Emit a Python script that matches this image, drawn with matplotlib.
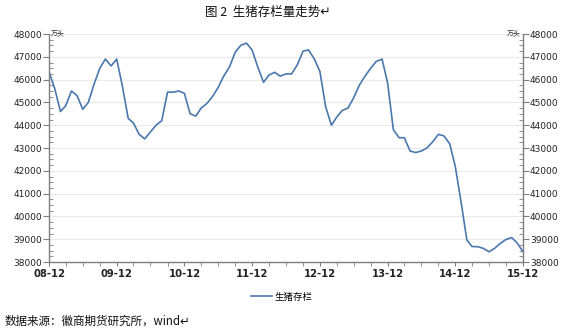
import matplotlib
matplotlib.use("Agg")
import matplotlib.pyplot as plt
import matplotlib.dates as mdates
import pandas as pd

plt.rcParams['font.family'] = ['Noto Sans CJK SC', 'DejaVu Sans']

start_month = '2008-12-01'
values = [46350, 45600, 44600, 44850, 45500, 45300, 44700, 45000, 45800, 46500,
          46900, 46600, 46900, 45700, 44300, 44100, 43600, 43400, 43700, 44000,
          44200, 45450, 45450, 45500, 45400, 44500, 44400, 44750, 44950, 45250,
          45650, 46150, 46550, 47200, 47500, 47600, 47300, 46550, 45880, 46200,
          46320, 46150, 46250, 46250, 46650, 47250, 47300, 46900, 46350, 44800,
          44000, 44350, 44650, 44750, 45200, 45750, 46150, 46500, 46800, 46900,
          45850, 43800, 43450, 43450, 42870, 42800, 42870, 43000, 43270, 43600,
          43530, 43180, 42180, 40640, 38970, 38680, 38670, 38600, 38450, 38600,
          38820, 38990, 39070, 38820, 38450]
dates = pd.date_range(start_month, periods=len(values), freq='MS')
series_name = '生猪存栏'
y_ticks = list(range(38000, 48001, 1000))
title = '图 2  生猪存栏量走势↵'
unit = '万头'
source = '数据来源：徽商期货研究所，wind↵'

fig = plt.figure(figsize=(5.67, 3.30), dpi=100)
ax = fig.add_axes([49/567, 1-262/330, (523-49)/567, (262-34)/330])

ax.plot(dates, values, color='#4a78ad', linewidth=1.2, label=series_name)

ax.set_ylim(38000, 48000)
ax.set_xlim(dates[0], dates[-1])
ax.set_yticks(y_ticks)
ax.yaxis.set_minor_locator(matplotlib.ticker.MultipleLocator(250))
ax.xaxis.set_major_locator(mdates.MonthLocator(bymonth=12))
ax.xaxis.set_major_formatter(mdates.DateFormatter('%y-%m'))
ax.xaxis.set_minor_locator(mdates.MonthLocator(bymonth=[3, 6, 9, 12]))

ax.grid(axis='y', color='#ebebeb', linewidth=0.8)
ax.set_axisbelow(True)
for s in ['left', 'right', 'bottom']:
    ax.spines[s].set_color('#7f7f7f')
    ax.spines[s].set_linewidth(1.0)
ax.spines['top'].set_visible(False)

ax.tick_params(axis='y', which='major', direction='out', length=4, color='#7f7f7f',
               labelsize=6.5, labelcolor='#222222', left=True, right=True,
               labelleft=True, labelright=True, pad=1)
ax.tick_params(axis='y', which='minor', direction='in', length=3, color='#7f7f7f',
               left=True, right=True)
ax.tick_params(axis='x', which='both', direction='out', length=3, color='#7f7f7f',
               labelsize=7.2, labelcolor='#222222', pad=2)
for lab in ax.get_xticklabels():
    lab.set_fontweight('bold')
    lab.set_family('DejaVu Sans')
for lab in ax.get_yticklabels():
    lab.set_family('DejaVu Sans')

fig.text(51/567, 1-33/330, unit, fontsize=5, ha='left', va='center', color='#333333')
fig.text(521/567, 1-33/330, unit, fontsize=5, ha='right', va='center', color='#333333')

fig.text(268/567, 1-12/330, title, fontsize=9, ha='center', va='center', color='#111111')
fig.text(5/567, 1-321/330, source, fontsize=8.3, ha='left', va='center', color='#111111')

fig.legend(loc='center', bbox_to_anchor=(282/567, 1-297/330), frameon=False,
           fontsize=6.8, handlelength=2.2, handletextpad=0.3)

fig.savefig('out.png', dpi=100)
